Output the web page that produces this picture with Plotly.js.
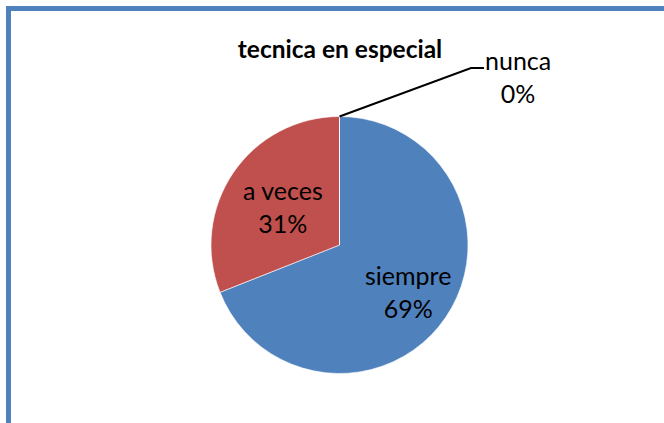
<!DOCTYPE html>
<html>
<head>
<meta charset="utf-8">
<script src="https://cdn.plot.ly/plotly-3.0.1.min.js"></script>
<style>html,body{margin:0;padding:0;background:#fff;}#chart{width:664px;height:423px;}</style>
</head>
<body>
<div id="chart"></div>
<script>
var chartTitle = "tecnica en especial";
var categories = ["siempre", "a veces", "nunca"];
var values = [69, 31, 0];
var sliceColors = ["#4F81BD", "#C0504D", "#9BBB59"];

var W = 664, H = 423;
function px(x){ return x / W; }
function py(y){ return (H - y) / H; }

var cx = 339.5, cy = 245, r = 128.5;
var labelRadius = [0.64, 0.53];   // inside label distance from centre (fraction of radius)
var FONT = "Lato, 'Liberation Sans', sans-serif";

var trace = {
  type: "pie",
  labels: categories,
  values: values,
  sort: false,
  direction: "clockwise",
  rotation: 0,
  marker: {colors: sliceColors, line: {color: "#ffffff", width: 0.6}},
  textinfo: "none",
  hoverinfo: "label+percent",
  showlegend: false,
  domain: {x: [px(cx - r), px(cx + r)], y: [py(cy + r), py(cy - r)]}
};

var total = values.reduce(function(a, b){ return a + b; }, 0);
var annotations = [];
var cum = 0;
for (var i = 0; i < values.length; i++) {
  var frac = values[i] / total;
  var pct = Math.round(frac * 100) + "%";
  var mid = (cum + frac / 2) * 2 * Math.PI;
  cum += frac;
  if (values[i] > 0) {
    var d = labelRadius[i] * r;
    annotations.push({
      xref: "paper", yref: "paper",
      x: px(cx + d * Math.sin(mid)), y: py(cy - d * Math.cos(mid)),
      xanchor: "center", yanchor: "middle",
      text: categories[i] + "<br>" + pct,
      showarrow: false,
      font: {family: FONT, size: 25, color: "#000000"}
    });
  } else {
    annotations.push({
      xref: "paper", yref: "paper",
      x: px(518), y: py(76), xanchor: "center", yanchor: "middle",
      text: categories[i] + "<br>" + pct,
      showarrow: false,
      font: {family: FONT, size: 25, color: "#000000"}
    });
  }
}

var layout = {
  width: W, height: H,
  margin: {l: 0, r: 0, t: 0, b: 0},
  paper_bgcolor: "#ffffff",
  plot_bgcolor: "#ffffff",
  showlegend: false,
  title: {
    text: "<b>" + chartTitle + "</b>",
    x: px(340), xanchor: "center",
    y: py(49), yanchor: "middle",
    font: {family: FONT, size: 24.5, color: "#000000"}
  },
  annotations: annotations,
  shapes: [
    {type: "rect", xref: "paper", yref: "paper",
     x0: px(8.5), x1: 1.1, y0: -0.1, y1: py(8.5),
     line: {color: "#4F81BD", width: 5}, fillcolor: "rgba(0,0,0,0)", layer: "above"},
    {type: "path", xref: "paper", yref: "paper",
     path: "M " + px(cx) + "," + py(cy - r) + " L " + px(471) + "," + py(68) + " L " + px(484) + "," + py(68),
     line: {color: "#000000", width: 2}}
  ]
};

Plotly.newPlot("chart", [trace], layout, {displayModeBar: false, staticPlot: true});
</script>
</body>
</html>
